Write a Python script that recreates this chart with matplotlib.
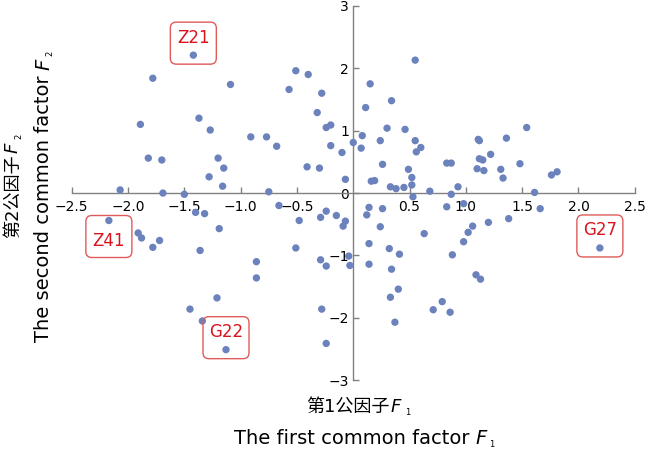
import matplotlib
matplotlib.use("Agg")
import matplotlib.pyplot as plt
import matplotlib.transforms as mtransforms
from matplotlib.patches import FancyBboxPatch

plt.rcParams['font.family'] = ['DejaVu Sans', 'Noto Sans CJK SC']

# factor scores (F1, F2)
f1 = [-1.42, -1.78, -1.89, -1.82, -1.70, -2.07, -1.69, -1.50, -1.37, -1.27,
      -1.20, -1.15, -1.28, -1.16, -1.09, -0.91, -0.77, -0.68, -0.75, -0.57,
      -0.51, -0.40, -0.28, -0.32, -0.24, -0.20, -0.20, -0.10, -0.41, -0.30,
      -0.07, 0.00, 0.07, 0.08, 0.11, 0.15, 0.16, 0.19, 0.24, 0.26,
      0.30, 0.34, 0.33, 0.38, 0.45, 0.46, 0.49, 0.52, 0.52, 0.55,
      0.55, 0.56, 0.60, 0.53, 0.68, 0.83, 0.87, 0.87, 0.93, 1.11,
      1.12, 1.10, 1.12, 1.15, 1.16, 1.22, 1.31, 1.33, 1.36, 1.48,
      1.54, 1.61, 1.76, 1.81,
      -2.17, -1.91, -1.88, -1.78, -1.72, -1.40, -1.32, -1.19, -1.36, -0.86,
      -0.86, -1.21, -1.45, -1.34, -1.13, -0.66, -0.48, -0.51, -0.29, -0.24,
      -0.15, -0.07, -0.09, -0.29, -0.24, -0.04, -0.03, -0.28, -0.24,
      0.14, 0.12, 0.26, 0.24, 0.14, 0.14, 0.32, 0.41, 0.34, 0.40,
      0.33, 0.37, 0.63, 0.71, 0.79, 0.86, 0.83, 0.98, 0.88, 0.98,
      1.02, 1.06, 1.20, 1.38, 1.09, 1.13, 1.66, 2.19]
f2 = [2.21, 1.84, 1.10, 0.56, 0.53, 0.05, 0.00, -0.02, 1.20, 1.01,
      0.56, 0.40, 0.26, 0.11, 1.74, 0.90, 0.90, 0.75, 0.02, 1.66,
      1.96, 1.90, 1.60, 1.29, 1.05, 1.09, 0.76, 0.65, 0.42, 0.40,
      0.22, 0.81, 0.72, 0.92, 1.37, 1.75, 0.19, 0.20, 0.84, 0.46,
      1.04, 1.48, 0.10, 0.07, 0.09, 1.02, 0.38, 0.25, 0.13, 2.13,
      0.84, 0.66, 0.73, -0.06, 0.03, 0.48, 0.48, -0.02, 0.10, 0.86,
      0.84, 0.39, 0.55, 0.53, 0.36, 0.62, 0.38, 0.24, 0.88, 0.47,
      1.05, 0.01, 0.29, 0.34,
      -0.44, -0.64, -0.72, -0.87, -0.76, -0.31, -0.33, -0.57, -0.92, -1.10,
      -1.36, -1.68, -1.86, -2.05, -2.51, -0.20, -0.44, -0.88, -0.39, -0.29,
      -0.36, -0.45, -0.53, -1.07, -1.17, -1.01, -1.16, -1.86, -2.41,
      -0.23, -0.35, -0.25, -0.54, -0.81, -1.14, -0.89, -0.98, -1.22, -1.54,
      -1.67, -2.07, -0.65, -1.87, -1.74, -1.91, -0.22, -0.17, -0.99, -0.78,
      -0.63, -0.53, -0.47, -0.41, -1.31, -1.38, -0.25, -0.88]

# labelled samples: name, F1, F2, text above/below the point
tag_names = ['Z21', 'Z41', 'G22', 'G27']
tag_f1 = [-1.42, -2.17, -1.13, 2.19]
tag_f2 = [2.21, -0.44, -2.51, -0.88]
tag_side = ['above', 'below', 'above', 'above']

xticks = [-2.5, -2.0, -1.5, -1.0, -0.5, 0.5, 1.0, 1.5, 2.0, 2.5]
yticks = [-3, -2, -1, 0, 1, 2, 3]

W, H = 649, 450
fig = plt.figure(figsize=(W / 100, H / 100), dpi=100)
ax = fig.add_axes([0.1105, 0.155, 0.8676, 0.832])

ax.scatter(f1, f2, s=28, color='#6b82bd', edgecolors='none', zorder=3)

ax.set_xlim(-2.5, 2.5)
ax.set_ylim(-3, 3)
ax.spines['left'].set_position(('data', 0))
ax.spines['bottom'].set_position(('data', 0))
ax.spines['top'].set_visible(False)
ax.spines['right'].set_visible(False)
for side in ['left', 'bottom']:
    ax.spines[side].set_color('#808080')
    ax.spines[side].set_linewidth(1.0)
ax.set_xticks(xticks)
ax.set_xticklabels([f'{t:.1f}'.replace('-', '\u2212') for t in xticks])
ax.set_yticks(yticks)
ax.set_yticklabels([f'{t}'.replace('-', '\u2212') for t in yticks])
ax.tick_params(direction='in', length=4, width=1.0, color='#808080',
               labelsize=10, pad=3)
ax.tick_params(axis='x', pad=5)

# red rounded tags around the labelled samples
for name, x, y, side in zip(tag_names, tag_f1, tag_f2, tag_side):
    trans = fig.dpi_scale_trans + mtransforms.ScaledTranslation(x, y, ax.transData)
    if side == 'above':
        y0, ty = -0.09, 0.175
    else:
        y0, ty = -0.37, -0.2
    box = FancyBboxPatch((-0.23, y0), 0.46, 0.42,
                         boxstyle='round,pad=0,rounding_size=0.06',
                         transform=trans, facecolor='none',
                         edgecolor='#e05a5a', linewidth=1.0, zorder=4)
    ax.add_patch(box)
    ax.text(0, ty, name, transform=trans, ha='center', va='center',
            color='#d9141e', fontsize=12, zorder=5)


def fxy(px, py):
    return px / W, 1 - py / H


def axis_title(main, sub, px, py, fs, gap, vertical=False):
    # main text ends at (px, py) on its baseline, then italic F and a tiny subscript
    rot = 90 if vertical else 0
    kw = dict(va='baseline', rotation=rot, rotation_mode='anchor', fontsize=fs)
    fig.text(*fxy(px, py), main, ha='right', **kw)
    if vertical:
        fig.text(*fxy(px, py - gap), 'F', ha='left', style='italic', **kw)
        fig.text(*fxy(px + 3, py - gap - 14), sub, ha='left', va='baseline',
                 rotation=90, rotation_mode='anchor', fontsize=6)
    else:
        fig.text(*fxy(px + gap, py), 'F', ha='left', style='italic', **kw)
        fig.text(*fxy(px + gap + 14, py + 3), sub, ha='left', va='baseline',
                 fontsize=6)


axis_title('第1公因子', '1', 390, 412, 13, 1)
axis_title('The first common factor', '1', 470, 444, 14, 5)
axis_title('第2公因子', '2', 18, 154, 13, 1, vertical=True)
axis_title('The second common factor', '2', 49, 75, 14, 5, vertical=True)

fig.savefig('out.png', dpi=100)
